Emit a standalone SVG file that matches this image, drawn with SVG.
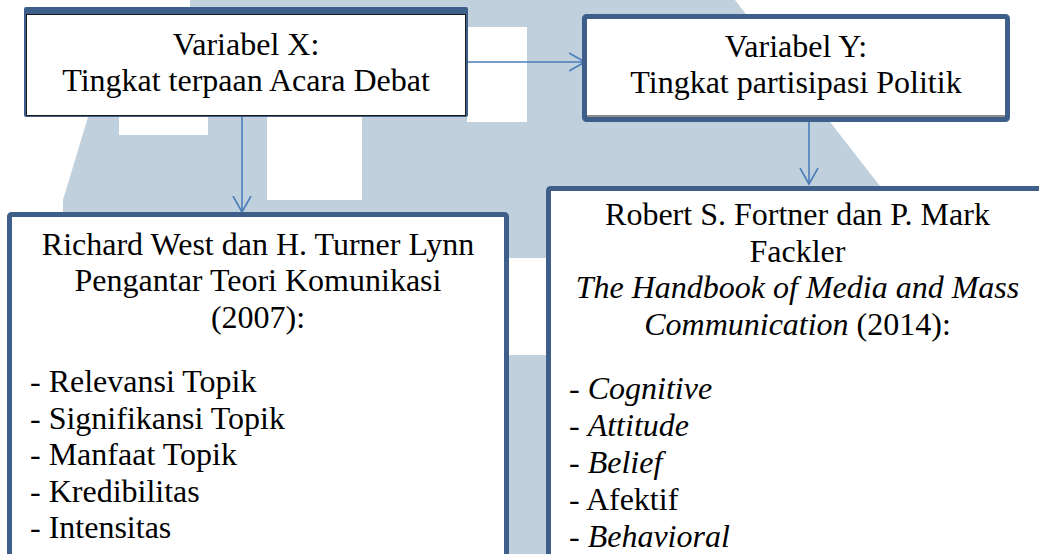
<svg xmlns="http://www.w3.org/2000/svg" width="1039" height="554" viewBox="0 0 1039 554">
<style>
.t{font-family:"Liberation Serif","Times New Roman",serif;font-size:32px;fill:#000}
.c{text-anchor:middle}
.i{font-style:italic}
.bx{fill:#fff;stroke:#3d5f8a;stroke-width:5}
.cn{stroke:#4a7ebb;stroke-width:1.6;fill:none}
.wm{fill:#c1d0dd}
</style>
<defs>
<marker id="ah" markerUnits="userSpaceOnUse" markerWidth="20" markerHeight="22" refX="16" refY="10" orient="auto">
<path d="M0,1 L16,10 L0,19" fill="none" stroke="#4a7ebb" stroke-width="1.6"/>
</marker>
</defs>
<rect width="1039" height="554" fill="#fff"/>
<g id="watermark">
<polygon class="wm" points="190,0 735,0 880,186 880,554 60,554 63,200 88,117 190,117"/>
<rect x="119" y="117" width="89" height="18" fill="#fff"/>
<rect x="267" y="117" width="95" height="83" fill="#fff"/>
<rect x="467" y="27" width="60" height="95" fill="#fff"/>
<rect x="509" y="258" width="37" height="97" fill="#fff"/>
</g>
<g id="connectors">
<line class="cn" x1="468" y1="62" x2="585" y2="62" marker-end="url(#ah)"/>
<line class="cn" x1="242" y1="117" x2="242" y2="212" marker-end="url(#ah)"/>
<line class="cn" x1="809" y1="122" x2="809" y2="184" marker-end="url(#ah)"/>
</g>
<g id="nodeX">
<rect x="24" y="7" width="444" height="110" rx="2" fill="#3d5f8a"/>
<rect x="26.5" y="14.5" width="439" height="101" fill="#fff" stroke="#1a1a1a" stroke-width="1"/>
<text class="t c" x="246" y="55">Variabel X:</text>
<text class="t c" x="246" y="91">Tingkat terpaan Acara Debat</text>
</g>
<g id="nodeY">
<rect class="bx" x="584.5" y="16.5" width="423" height="103" rx="2"/>
<line x1="587" y1="116" x2="1005" y2="116" stroke="#1a1a1a" stroke-width="1"/>
<text class="t c" x="796" y="57">Variabel Y:</text>
<text class="t c" x="796" y="93">Tingkat partisipasi Politik</text>
</g>
<g id="nodeWest">
<rect class="bx" x="9.5" y="214.5" width="497" height="360" rx="2"/>
<text class="t c" x="258" y="255">Richard West dan H. Turner Lynn</text>
<text class="t c" x="258" y="291">Pengantar Teori Komunikasi</text>
<text class="t c" x="258" y="328">(2007):</text>
<text class="t" x="30" y="392">- Relevansi Topik</text>
<text class="t" x="30" y="428.5">- Signifikansi Topik</text>
<text class="t" x="30" y="465">- Manfaat Topik</text>
<text class="t" x="30" y="501.5">- Kredibilitas</text>
<text class="t" x="30" y="538">- Intensitas</text>
</g>
<g id="nodeFortner">
<rect class="bx" x="548.5" y="188.5" width="520" height="400" rx="2"/>
<text class="t c" x="797.5" y="225">Robert S. Fortner dan P. Mark</text>
<text class="t c" x="797.5" y="262">Fackler</text>
<text class="t c i" x="797.5" y="298">The Handbook of Media and Mass</text>
<text class="t c" x="797.5" y="335"><tspan class="i">Communication</tspan> (2014):</text>
<text class="t" x="569" y="399">- <tspan class="i">Cognitive</tspan></text>
<text class="t" x="569" y="436">- <tspan class="i">Attitude</tspan></text>
<text class="t" x="569" y="473">- <tspan class="i">Belief</tspan></text>
<text class="t" x="569" y="510">- Afektif</text>
<text class="t" x="569" y="547">- <tspan class="i">Behavioral</tspan></text>
</g>
</svg>
